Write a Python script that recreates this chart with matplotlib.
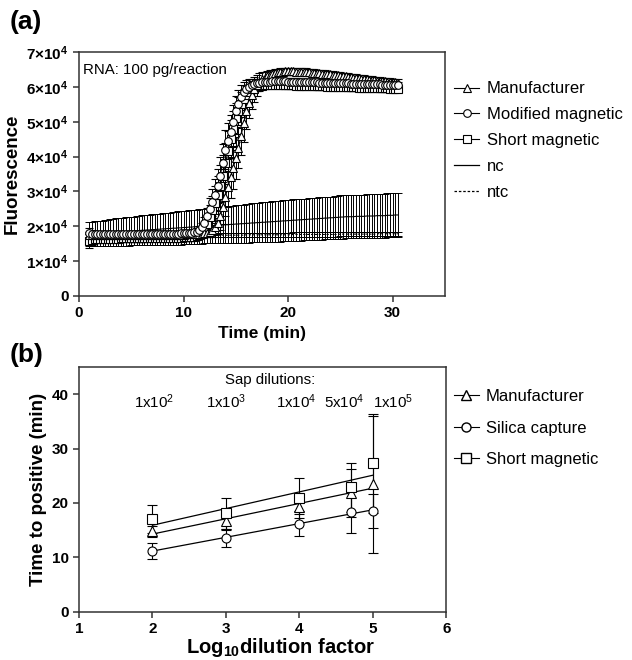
import numpy as np
import matplotlib
matplotlib.use('Agg')
import matplotlib.pyplot as plt
from matplotlib.lines import Line2D

plt.rcParams['font.family'] = ['Liberation Sans', 'DejaVu Sans']
plt.rcParams['mathtext.fontset'] = 'custom'
plt.rcParams['mathtext.rm'] = 'Liberation Sans'
plt.rcParams['mathtext.bf'] = 'Liberation Sans:bold'
plt.rcParams['mathtext.it'] = 'Liberation Sans:italic'

# ---- (a) amplification curves, fluorescence in units of 1e4, read every 15 s ----
time_min = np.arange(1.0, 30.51, 0.25)

manufacturer = [1.74, 1.74, 1.73, 1.73, 1.73, 1.73, 1.73, 1.73, 1.73, 1.73,
                1.73, 1.73, 1.73, 1.73, 1.73, 1.73, 1.74, 1.74, 1.74, 1.74,
                1.74, 1.74, 1.74, 1.74, 1.74, 1.74, 1.74, 1.74, 1.75, 1.75,
                1.75, 1.75, 1.75, 1.75, 1.75, 1.75, 1.75, 1.76, 1.76, 1.76,
                1.76, 1.77, 1.77, 1.78, 1.79, 1.81, 1.84, 1.89, 1.98, 2.10,
                2.28, 2.55, 2.85, 3.12, 3.40, 3.68, 3.95, 4.25, 4.60, 4.95,
                5.30, 5.55, 5.78, 5.93, 6.05, 6.14, 6.22, 6.27, 6.32, 6.35,
                6.38, 6.40, 6.42, 6.43, 6.44, 6.45, 6.45, 6.45, 6.45, 6.44,
                6.44, 6.44, 6.43, 6.43, 6.42, 6.41, 6.41, 6.40, 6.39, 6.38,
                6.38, 6.37, 6.36, 6.35, 6.34, 6.33, 6.32, 6.31, 6.30, 6.29,
                6.28, 6.27, 6.26, 6.25, 6.24, 6.23, 6.22, 6.21, 6.20, 6.19,
                6.18, 6.18, 6.17, 6.16, 6.15, 6.15, 6.14, 6.13, 6.12]
manufacturer_sd = [0.10, 0.08, 0.08, 0.08, 0.08, 0.08, 0.08, 0.08, 0.08, 0.08,
                   0.08, 0.08, 0.08, 0.08, 0.08, 0.08, 0.08, 0.08, 0.08, 0.08,
                   0.08, 0.08, 0.08, 0.08, 0.08, 0.08, 0.08, 0.08, 0.08, 0.08,
                   0.08, 0.08, 0.08, 0.08, 0.08, 0.08, 0.08, 0.08, 0.08, 0.08,
                   0.08, 0.08, 0.08, 0.09, 0.10, 0.12, 0.15, 0.20, 0.25, 0.32,
                   0.40, 0.48, 0.55, 0.58, 0.60, 0.60, 0.60, 0.58, 0.55, 0.52,
                   0.50, 0.45, 0.40, 0.35, 0.30, 0.25, 0.20, 0.17, 0.15, 0.13,
                   0.12, 0.11, 0.10, 0.10, 0.10, 0.10, 0.10, 0.10, 0.10, 0.10,
                   0.10, 0.10, 0.10, 0.10, 0.10, 0.10, 0.10, 0.10, 0.10, 0.10,
                   0.10, 0.10, 0.10, 0.10, 0.10, 0.10, 0.10, 0.10, 0.10, 0.10,
                   0.10, 0.10, 0.10, 0.10, 0.10, 0.10, 0.10, 0.10, 0.10, 0.10,
                   0.10, 0.10, 0.10, 0.10, 0.10, 0.10, 0.10, 0.10, 0.10]

modified = [1.80, 1.78, 1.77, 1.77, 1.76, 1.76, 1.76, 1.76, 1.76, 1.76,
            1.76, 1.76, 1.76, 1.76, 1.76, 1.76, 1.76, 1.76, 1.76, 1.76,
            1.76, 1.76, 1.77, 1.77, 1.77, 1.77, 1.77, 1.77, 1.77, 1.77,
            1.78, 1.78, 1.78, 1.78, 1.78, 1.79, 1.79, 1.79, 1.80, 1.80,
            1.82, 1.84, 1.88, 1.96, 2.10, 2.30, 2.50, 2.68, 2.90, 3.15,
            3.45, 3.82, 4.20, 4.45, 4.70, 5.00, 5.30, 5.50, 5.70, 5.85,
            5.95, 6.00, 6.05, 6.08, 6.10, 6.12, 6.13, 6.14, 6.15, 6.15,
            6.16, 6.16, 6.16, 6.16, 6.16, 6.16, 6.15, 6.15, 6.15, 6.15,
            6.14, 6.14, 6.14, 6.14, 6.13, 6.13, 6.13, 6.13, 6.12, 6.12,
            6.12, 6.12, 6.11, 6.11, 6.11, 6.11, 6.10, 6.10, 6.10, 6.10,
            6.09, 6.09, 6.09, 6.09, 6.08, 6.08, 6.08, 6.08, 6.07, 6.07,
            6.07, 6.07, 6.06, 6.06, 6.06, 6.06, 6.05, 6.05, 6.05]
modified_sd = [0.15, 0.10, 0.08, 0.08, 0.08, 0.08, 0.08, 0.08, 0.08, 0.08,
               0.08, 0.08, 0.08, 0.08, 0.08, 0.08, 0.08, 0.08, 0.08, 0.08,
               0.08, 0.08, 0.08, 0.08, 0.08, 0.08, 0.08, 0.08, 0.08, 0.08,
               0.08, 0.08, 0.08, 0.08, 0.08, 0.08, 0.08, 0.08, 0.08, 0.08,
               0.10, 0.10, 0.12, 0.14, 0.15, 0.22, 0.30, 0.38, 0.45, 0.50,
               0.55, 0.55, 0.55, 0.52, 0.50, 0.48, 0.45, 0.40, 0.35, 0.30,
               0.25, 0.22, 0.18, 0.15, 0.12, 0.11, 0.10, 0.10, 0.10, 0.10,
               0.10, 0.10, 0.10, 0.10, 0.10, 0.10, 0.10, 0.10, 0.10, 0.10,
               0.10, 0.10, 0.10, 0.10, 0.10, 0.10, 0.10, 0.10, 0.10, 0.10,
               0.10, 0.10, 0.10, 0.10, 0.10, 0.10, 0.10, 0.10, 0.10, 0.10,
               0.10, 0.10, 0.10, 0.10, 0.10, 0.10, 0.10, 0.10, 0.10, 0.10,
               0.10, 0.10, 0.10, 0.10, 0.10, 0.10, 0.10, 0.10, 0.10]

short = [1.58, 1.60, 1.62, 1.62, 1.63, 1.63, 1.64, 1.64, 1.64, 1.64,
         1.64, 1.64, 1.65, 1.65, 1.65, 1.65, 1.65, 1.65, 1.65, 1.65,
         1.65, 1.65, 1.66, 1.66, 1.66, 1.66, 1.66, 1.66, 1.66, 1.66,
         1.67, 1.67, 1.67, 1.67, 1.67, 1.67, 1.68, 1.68, 1.68, 1.68,
         1.70, 1.71, 1.74, 1.80, 1.88, 2.05, 2.25, 2.45, 2.65, 2.90,
         3.15, 3.45, 3.80, 4.15, 4.50, 4.80, 5.10, 5.30, 5.50, 5.65,
         5.78, 5.86, 5.93, 5.97, 6.00, 6.02, 6.04, 6.05, 6.06, 6.06,
         6.06, 6.06, 6.06, 6.06, 6.06, 6.05, 6.05, 6.05, 6.05, 6.04,
         6.04, 6.04, 6.04, 6.03, 6.03, 6.03, 6.03, 6.02, 6.02, 6.02,
         6.02, 6.01, 6.01, 6.01, 6.01, 6.00, 6.00, 6.00, 6.00, 5.99,
         5.99, 5.99, 5.99, 5.98, 5.98, 5.98, 5.98, 5.97, 5.97, 5.97,
         5.97, 5.96, 5.96, 5.96, 5.96, 5.95, 5.95, 5.95, 5.94]
short_sd = [0.20, 0.15, 0.10, 0.10, 0.10, 0.10, 0.10, 0.10, 0.10, 0.10,
            0.10, 0.10, 0.10, 0.10, 0.10, 0.10, 0.10, 0.10, 0.10, 0.10,
            0.10, 0.10, 0.10, 0.10, 0.10, 0.10, 0.10, 0.10, 0.10, 0.10,
            0.10, 0.10, 0.10, 0.10, 0.10, 0.10, 0.10, 0.10, 0.10, 0.10,
            0.10, 0.10, 0.12, 0.15, 0.20, 0.28, 0.35, 0.42, 0.50, 0.55,
            0.60, 0.60, 0.60, 0.58, 0.55, 0.50, 0.45, 0.40, 0.35, 0.30,
            0.25, 0.22, 0.18, 0.15, 0.12, 0.11, 0.10, 0.10, 0.10, 0.10,
            0.10, 0.10, 0.10, 0.10, 0.10, 0.10, 0.10, 0.10, 0.10, 0.10,
            0.10, 0.10, 0.10, 0.10, 0.10, 0.10, 0.10, 0.10, 0.10, 0.10,
            0.10, 0.10, 0.10, 0.10, 0.10, 0.10, 0.10, 0.10, 0.10, 0.10,
            0.10, 0.10, 0.10, 0.10, 0.10, 0.10, 0.10, 0.10, 0.10, 0.10,
            0.10, 0.10, 0.10, 0.10, 0.10, 0.10, 0.10, 0.10, 0.10]

nc = [1.78, 1.78, 1.79, 1.79, 1.80, 1.80, 1.81, 1.81, 1.82, 1.82,
      1.83, 1.83, 1.84, 1.84, 1.85, 1.85, 1.86, 1.86, 1.87, 1.87,
      1.88, 1.88, 1.89, 1.89, 1.90, 1.90, 1.91, 1.91, 1.92, 1.92,
      1.93, 1.93, 1.94, 1.94, 1.95, 1.95, 1.96, 1.96, 1.97, 1.97,
      1.98, 1.98, 1.99, 1.99, 2.00, 2.00, 2.01, 2.01, 2.02, 2.02,
      2.03, 2.03, 2.04, 2.04, 2.05, 2.05, 2.06, 2.06, 2.07, 2.07,
      2.08, 2.08, 2.09, 2.09, 2.10, 2.10, 2.11, 2.11, 2.12, 2.12,
      2.13, 2.13, 2.14, 2.14, 2.15, 2.15, 2.16, 2.16, 2.17, 2.17,
      2.18, 2.18, 2.19, 2.19, 2.20, 2.20, 2.21, 2.21, 2.22, 2.22,
      2.23, 2.23, 2.24, 2.24, 2.25, 2.25, 2.26, 2.26, 2.27, 2.27,
      2.27, 2.27, 2.28, 2.28, 2.28, 2.28, 2.29, 2.29, 2.29, 2.29,
      2.30, 2.30, 2.30, 2.30, 2.31, 2.31, 2.31, 2.32, 2.32]
nc_sd = [0.34, 0.34, 0.35, 0.35, 0.36, 0.36, 0.37, 0.37, 0.38, 0.38,
         0.39, 0.39, 0.40, 0.40, 0.41, 0.41, 0.41, 0.41, 0.42, 0.42,
         0.43, 0.43, 0.44, 0.44, 0.44, 0.44, 0.45, 0.45, 0.46, 0.46,
         0.46, 0.46, 0.47, 0.47, 0.48, 0.48, 0.48, 0.48, 0.49, 0.49,
         0.49, 0.49, 0.50, 0.50, 0.50, 0.50, 0.51, 0.51, 0.52, 0.52,
         0.53, 0.53, 0.53, 0.53, 0.54, 0.54, 0.55, 0.55, 0.55, 0.55,
         0.56, 0.56, 0.56, 0.56, 0.57, 0.57, 0.57, 0.57, 0.58, 0.58,
         0.58, 0.58, 0.59, 0.59, 0.59, 0.59, 0.60, 0.60, 0.60, 0.60,
         0.60, 0.60, 0.60, 0.60, 0.61, 0.61, 0.61, 0.61, 0.61, 0.61,
         0.61, 0.61, 0.61, 0.61, 0.62, 0.62, 0.62, 0.62, 0.62, 0.62,
         0.62, 0.62, 0.62, 0.62, 0.62, 0.62, 0.62, 0.62, 0.63, 0.63,
         0.63, 0.63, 0.63, 0.63, 0.63, 0.63, 0.63, 0.63, 0.63]

ntc = [1.70, 1.70, 1.71, 1.71, 1.71, 1.71, 1.71, 1.71, 1.72, 1.72,
       1.72, 1.72, 1.72, 1.72, 1.72, 1.72, 1.72, 1.72, 1.72, 1.72,
       1.72, 1.72, 1.72, 1.72, 1.73, 1.73, 1.73, 1.73, 1.73, 1.73,
       1.73, 1.73, 1.73, 1.73, 1.73, 1.73, 1.73, 1.73, 1.73, 1.73,
       1.74, 1.74, 1.74, 1.74, 1.74, 1.74, 1.74, 1.74, 1.74, 1.74,
       1.74, 1.74, 1.74, 1.74, 1.74, 1.74, 1.74, 1.74, 1.74, 1.74,
       1.75, 1.75, 1.75, 1.75, 1.75, 1.75, 1.75, 1.75, 1.75, 1.75,
       1.75, 1.75, 1.75, 1.75, 1.75, 1.75, 1.75, 1.75, 1.76, 1.76,
       1.76, 1.76, 1.76, 1.76, 1.76, 1.76, 1.76, 1.76, 1.76, 1.76,
       1.76, 1.76, 1.76, 1.76, 1.76, 1.76, 1.77, 1.77, 1.77, 1.77,
       1.77, 1.77, 1.77, 1.77, 1.77, 1.77, 1.77, 1.77, 1.77, 1.77,
       1.78, 1.78, 1.78, 1.78, 1.78, 1.78, 1.78, 1.78, 1.78]
ntc_sd = 0.06

# ---- (b) time to positive vs dilution ----
dilutions = [1e2, 1e3, 1e4, 5e4, 1e5]
dilution_labels = ['1x10$^2$', '1x10$^3$', '1x10$^4$', '5x10$^4$', '1x10$^5$']
ttp_manufacturer = [14.8, 16.7, 19.2, 21.8, 23.4]
ttp_manufacturer_sd = [1.0, 1.7, 1.2, 4.4, 12.5]
ttp_silica = [11.2, 13.6, 16.2, 18.3, 18.5]
ttp_silica_sd = [1.5, 1.6, 2.3, 3.9, 3.1]
ttp_short = [17.0, 18.1, 20.9, 22.9, 27.3]
ttp_short_sd = [2.6, 2.9, 3.7, 4.5, 9.1]

fig = plt.figure(figsize=(6.32, 6.6), dpi=100)
ax1 = fig.add_axes([0.125, 0.552, 0.579, 0.369])
ax2 = fig.add_axes([0.125, 0.073, 0.581, 0.371])

ebkw = dict(color='black', lw=0.8, elinewidth=0.7, capsize=2.8, capthick=0.7)
mkw = dict(ms=5.5, mfc='white', mec='black', mew=0.8)

# (a)
ax1.errorbar(time_min, np.array(nc) * 1e4, yerr=np.array(nc_sd) * 1e4,
             fmt='-', zorder=1, **ebkw)
ax1.errorbar(time_min, np.array(ntc) * 1e4, yerr=ntc_sd * 1e4,
             fmt='-', ls=(0, (2, 1.5)), zorder=1, **ebkw)
for vals, sd, mk in [(short, short_sd, 's'),
                     (manufacturer, manufacturer_sd, '^'),
                     (modified, modified_sd, 'o')]:
    ax1.errorbar(time_min, np.array(vals) * 1e4, yerr=np.array(sd) * 1e4,
                 fmt='-', marker=mk, zorder=3, **ebkw, **mkw)

ax1.set_xlim(0, 35)
ax1.set_ylim(0, 7e4)
ax1.set_xticks([0, 10, 20, 30])
ax1.set_xticklabels(['0', '10', '20', '30'], fontweight='bold')
ax1.set_yticks([i * 1e4 for i in range(8)])
ax1.set_yticklabels(['0'] + [r'$\mathbf{%d{\times}10^4}$' % i for i in range(1, 8)],
                    fontweight='bold')
ax1.set_xlabel('Time (min)', fontsize=12.5, fontweight='bold', labelpad=4)
ax1.set_ylabel('Fluorescence', fontsize=13.5, fontweight='bold', labelpad=4)
ax1.text(0.012, 0.955, 'RNA: 100 pg/reaction', transform=ax1.transAxes,
         fontsize=10.8, va='top', ha='left')

h1 = [Line2D([], [], color='black', lw=0.8, marker='^', **mkw),
      Line2D([], [], color='black', lw=0.8, marker='o', **mkw),
      Line2D([], [], color='black', lw=0.8, marker='s', **mkw),
      Line2D([], [], color='black', lw=0.9),
      Line2D([], [], color='black', lw=0.9, ls=(0, (2, 1.5)))]
ax1.legend(h1, ['Manufacturer', 'Modified magnetic', 'Short magnetic', 'nc', 'ntc'],
           loc='upper left', bbox_to_anchor=(1.025, 0.88), frameon=False,
           fontsize=12, handlelength=1.5, handletextpad=0.45, labelspacing=0.65,
           borderaxespad=0, borderpad=0)

# (b)
x = np.log10(dilutions)
xx = np.array([x.min(), x.max()])
for vals, sd, mk in [(ttp_manufacturer, ttp_manufacturer_sd, '^'),
                     (ttp_silica, ttp_silica_sd, 'o'),
                     (ttp_short, ttp_short_sd, 's')]:
    ax2.errorbar(x, vals, yerr=sd, fmt='none', ecolor='black', elinewidth=0.8,
                 capsize=3.5, capthick=0.8, zorder=2)
    slope, icpt = np.polyfit(x, vals, 1)
    ax2.plot(xx, slope * xx + icpt, color='black', lw=0.9, zorder=2)
    ax2.plot(x, vals, ls='none', marker=mk, zorder=3, ms=6.5, mfc='white',
             mec='black', mew=0.8)

ax2.set_xlim(1, 6)
ax2.set_ylim(0, 45)
ax2.set_xticks([1, 2, 3, 4, 5, 6])
ax2.set_xticklabels(['1', '2', '3', '4', '5', '6'], fontweight='bold')
ax2.set_yticks([0, 10, 20, 30, 40])
ax2.set_yticklabels(['0', '10', '20', '30', '40'], fontweight='bold')
ax2.set_xlabel(r'Log$_{\mathbf{10}}$dilution factor', fontsize=14.5,
               fontweight='bold', labelpad=0)
ax2.xaxis.label.set_x(0.55)
ax2.set_ylabel('Time to positive (min)', fontsize=13.5, fontweight='bold',
               labelpad=3)
ax2.text(3.6, 42.6, 'Sap dilutions:', fontsize=10.8, ha='center', va='center')
for px, lab in zip([2.02, 3.0, 3.96, 4.61, 5.27], dilution_labels):
    ax2.text(px, 38.6, lab, fontsize=10.8, ha='center', va='center')

h2 = [Line2D([], [], color='black', lw=0.8, marker='^', ms=6.5, mfc='white', mec='black'),
      Line2D([], [], color='black', lw=0.8, marker='o', ms=6.5, mfc='white', mec='black'),
      Line2D([], [], color='black', lw=0.8, marker='s', ms=6.5, mfc='white', mec='black')]
ax2.legend(h2, ['Manufacturer', 'Silica capture', 'Short magnetic'],
           loc='upper left', bbox_to_anchor=(1.02, 0.91), frameon=False,
           fontsize=12, handlelength=1.5, handletextpad=0.45, labelspacing=1.0,
           borderaxespad=0, borderpad=0)

for ax in (ax1, ax2):
    for s in ax.spines.values():
        s.set_linewidth(1.1)
        s.set_color('#333333')
    ax.tick_params(direction='out', length=4, width=1.1, labelsize=11,
                   color='#333333', top=False, right=False)

fig.text(0.015, 0.966, '(a)', fontsize=19, fontweight='bold', va='center')
fig.text(0.015, 0.462, '(b)', fontsize=19, fontweight='bold', va='center')

fig.savefig('out.png', dpi=100)
